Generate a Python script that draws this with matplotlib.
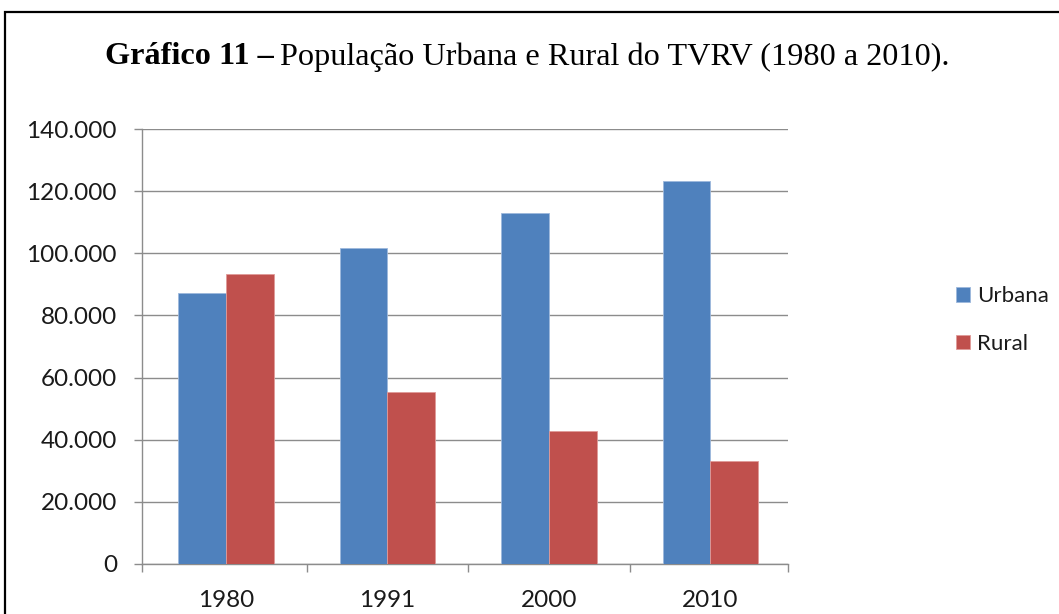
import matplotlib
matplotlib.use("Agg")
import matplotlib.pyplot as plt
import numpy as np
from matplotlib.patches import Rectangle
from matplotlib.ticker import FuncFormatter

years = ["1980", "1991", "2000", "2010"]
urbana = [87300, 101800, 112950, 123350]
rural = [93200, 55450, 42700, 33250]
series_names = ["Urbana", "Rural"]
yticks = [0, 20000, 40000, 60000, 80000, 100000, 120000, 140000]

BLUE = "#4F81BD"
RED = "#C0504D"
GRID = "#8C8C8C"
SANS = ["Lato", "DejaVu Sans"]
SERIF = ["Liberation Serif", "DejaVu Serif"]

fig = plt.figure(figsize=(10.59, 6.14), dpi=100)
ax = fig.add_axes([142/1059, 1-564/614, (788-142)/1059, (564-129)/614])

x = np.arange(len(years))
w = 0.295
ax.bar(x - w/2, urbana, w, color=BLUE, edgecolor="#9DB8DC", linewidth=0.6, label=series_names[0], zorder=3)
ax.bar(x + w/2, rural, w, color=RED, edgecolor="#E09A98", linewidth=0.6, label=series_names[1], zorder=3)

x0, x1 = -0.52, len(years) - 0.52
ax.set_xlim(x0, x1)
ax.set_ylim(0, 140000)
ax.set_yticks(yticks)
ax.yaxis.set_major_formatter(FuncFormatter(lambda v, p: f"{int(v):,}".replace(",", ".")))
ax.set_xticks(x)
ax.set_xticklabels(years)
ax.set_xticks([x0] + list(np.arange(1, len(years)) - 0.5) + [x1], minor=True)
ax.tick_params(axis="x", which="major", length=0, pad=19)
ax.tick_params(axis="x", which="minor", length=6, color=GRID, width=1)
ax.tick_params(axis="y", length=6, color=GRID, width=1, pad=12)
for lab in ax.get_xticklabels() + ax.get_yticklabels():
    lab.set_fontfamily(SANS)
    lab.set_fontsize(17.5)
    lab.set_color("#1a1a1a")

ax.grid(axis="y", color=GRID, linewidth=1, zorder=0)
ax.set_axisbelow(True)
for s in ["top", "right"]:
    ax.spines[s].set_visible(False)
for s in ["left", "bottom"]:
    ax.spines[s].set_color(GRID)
    ax.spines[s].set_linewidth(1)

leg = ax.legend(loc="center left", bbox_to_anchor=(940/1059, 1-320/614), bbox_transform=fig.transFigure,
                frameon=False, prop={"family": SANS, "size": 16}, handlelength=0.65, handleheight=0.65,
                handletextpad=0.3, labelspacing=1.25, borderpad=0.2)
for t in leg.get_texts():
    t.set_color("#1a1a1a")

# figure border
fig.patches.append(Rectangle((5/1059, -0.2), 1.2, 1 - 12/614 + 0.2, transform=fig.transFigure,
                             fill=False, edgecolor="black", linewidth=1.6, figure=fig))

t1 = fig.text(105/1059, 1-57/614, "Gráfico 11 –", fontfamily=SERIF, fontweight="bold", fontsize=23.2,
              ha="left", va="center")
fig.canvas.draw()
bb = t1.get_window_extent()
fig.text(bb.x1/1059 + 6/1059, 1-57/614, "População Urbana e Rural do TVRV (1980 a 2010).",
         fontfamily=SERIF, fontsize=23.2, ha="left", va="center")

fig.savefig("out.png", dpi=100)
